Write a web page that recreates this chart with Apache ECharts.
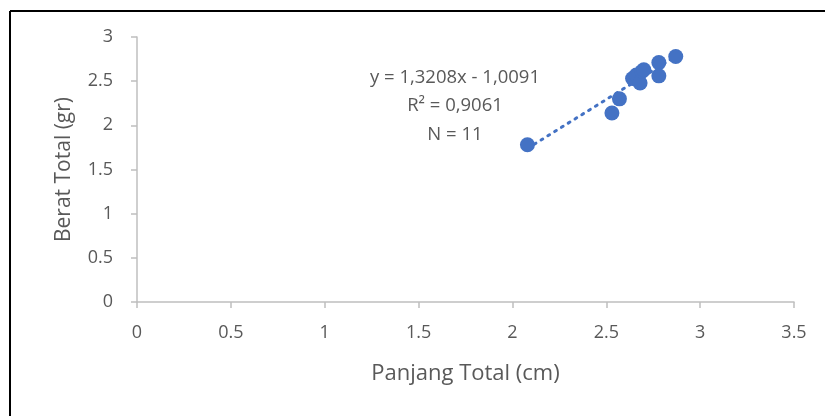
<!DOCTYPE html>
<html>
<head>
<meta charset="utf-8">
<script src="https://cdn.jsdelivr.net/npm/echarts@6/dist/echarts.min.js"></script>
<style>
  html, body { margin: 0; padding: 0; background: #fff; }
  #chart { width: 825px; height: 416px; }
</style>
</head>
<body>
<div id="chart"></div>
<script>
// Total length (cm) and total weight (gr) of each sample
const panjang = [2.08, 2.53, 2.57, 2.64, 2.66, 2.68, 2.69, 2.70, 2.78, 2.78, 2.87];
const berat   = [1.78, 2.14, 2.30, 2.53, 2.57, 2.48, 2.61, 2.63, 2.71, 2.56, 2.78];

// Linear trendline coefficients (y = slope * x + intercept)
const slope = 1.3208;
const intercept = -1.0091;
const trendLabel = ['y = 1,3208x - 1,0091', 'R² = 0,9061', 'N = 11'];

const xTicks = [0, 0.5, 1, 1.5, 2, 2.5, 3, 3.5];
const yTicks = [0, 0.5, 1, 1.5, 2, 2.5, 3];

const points = panjang.map((x, i) => [x, berat[i]]);
const xMin = Math.min(...panjang), xMax = Math.max(...panjang);
const trend = [[xMin, slope * xMin + intercept], [xMax, slope * xMax + intercept]];

const font = 'Open Sans';
const textColor = '#595959';
const axisColor = '#bfbfbf';

const chart = echarts.init(document.getElementById('chart'), null, { renderer: 'canvas' });
chart.setOption({
  animation: false,
  backgroundColor: '#fff',
  grid: { left: 137, right: 31, top: 37, bottom: 114, containLabel: false },
  graphic: [
    { type: 'line', shape: { x1: 10, y1: 11, x2: 825, y2: 11 }, style: { stroke: '#000', lineWidth: 2 } },
    { type: 'line', shape: { x1: 10, y1: 11, x2: 10, y2: 416 }, style: { stroke: '#000', lineWidth: 2 } },
    {
      type: 'text',
      x: 455, y: 63,
      style: {
        text: trendLabel.join('\n'),
        align: 'center',
        verticalAlign: 'top',
        fill: textColor,
        fontSize: 18.5,
        fontFamily: font,
        lineHeight: 28.5
      }
    }
  ],
  xAxis: {
    type: 'value', min: xTicks[0], max: xTicks[xTicks.length - 1], interval: 0.5,
    name: 'Panjang Total (cm)', nameLocation: 'middle', nameGap: 61,
    nameTextStyle: { color: textColor, fontSize: 22, fontFamily: font },
    axisLine: { show: true, onZero: false, lineStyle: { color: axisColor, width: 1.5 } },
    axisTick: { show: true, inside: false, length: 6, lineStyle: { color: axisColor, width: 1.5 } },
    axisLabel: { color: textColor, fontSize: 18, fontFamily: font, margin: 22, formatter: v => String(v) },
    splitLine: { show: false }
  },
  yAxis: {
    type: 'value', min: yTicks[0], max: yTicks[yTicks.length - 1], interval: 0.5,
    name: 'Berat Total (gr)', nameLocation: 'middle', nameGap: 62, nameRotate: 90,
    nameTextStyle: { color: textColor, fontSize: 21, fontFamily: font },
    axisLine: { show: true, lineStyle: { color: axisColor, width: 1.5 } },
    axisTick: { show: true, inside: false, length: 6, lineStyle: { color: axisColor, width: 1.5 } },
    axisLabel: { color: textColor, fontSize: 18, fontFamily: font, margin: 24, formatter: v => String(v) },
    splitLine: { show: false }
  },
  series: [
    {
      type: 'line', data: trend, symbol: 'none', z: 1,
      lineStyle: { color: '#4472C4', width: 3, type: [2, 6], cap: 'round' }
    },
    {
      type: 'scatter', data: points, symbol: 'circle', symbolSize: 15, z: 2,
      itemStyle: { color: '#4472C4', opacity: 1 }
    }
  ]
});
</script>
</body>
</html>
